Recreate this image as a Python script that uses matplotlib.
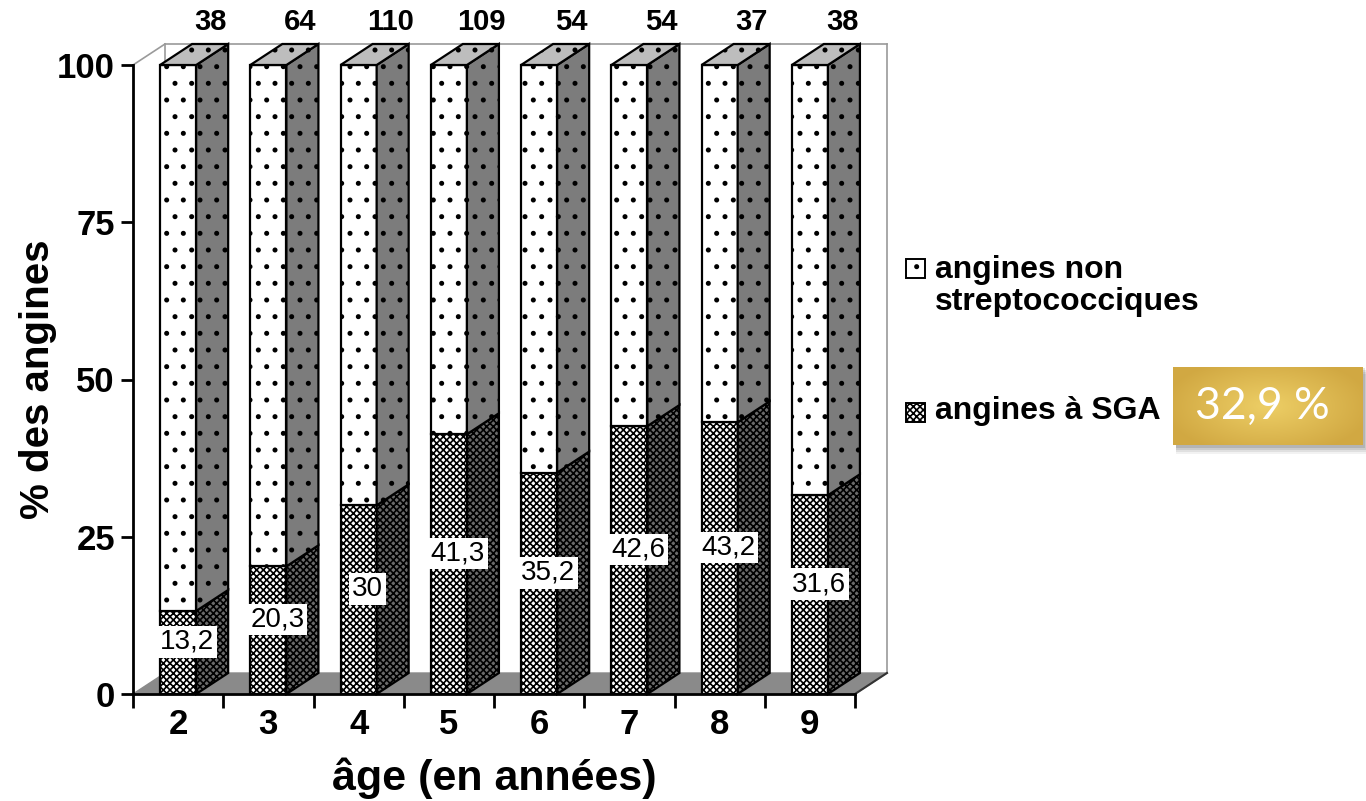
import numpy as np
import matplotlib
matplotlib.use("Agg")
import matplotlib.pyplot as plt
from matplotlib.patches import Polygon, Rectangle

plt.rcParams['font.family'] = ['Liberation Sans', 'DejaVu Sans']
plt.rcParams['hatch.linewidth'] = 1.2

# age groups, % of strep A (SGA) throats, number of throats per group
ages = ['2', '3', '4', '5', '6', '7', '8', '9']
sga = [13.2, 20.3, 30, 41.3, 35.2, 42.6, 43.2, 31.6]
counts = [38, 64, 110, 109, 54, 54, 37, 38]
overall = '32,9 %'
legend_labels = ['angines non\nstreptococciques', 'angines à SGA']

non_strep = [100 - v for v in sga]

W, H = 1366, 801
fig = plt.figure(figsize=(W / 100, H / 100), dpi=100)
fig.patch.set_facecolor('white')
ax = fig.add_axes([133 / W, (H - 694) / H, 722 / W, 629 / H])
ax.set_xlim(-0.5, len(ages) - 0.5)
ax.set_ylim(0, 100)

# fake 3D depth, in data units
dx = 32 / 90.25
dy = 21 / 6.29
bw = 0.4

x0, x1 = -0.5, len(ages) - 0.5
wall = dict(color='#9a9a9a', lw=1.2, clip_on=False, zorder=1)
ax.plot([x0, x0 + dx], [100, 100 + dy], **wall)
ax.plot([x0 + dx, x1 + dx], [100 + dy, 100 + dy], **wall)
ax.plot([x0 + dx, x0 + dx], [dy, 100 + dy], **wall)
ax.plot([x1 + dx, x1 + dx], [dy, 100 + dy], **wall)

floor = Polygon([(x0, 0), (x1, 0), (x1 + dx, dy), (x0 + dx, dy)],
                facecolor='#8a8a8a', edgecolor='#8a8a8a', lw=1, clip_on=False, zorder=2)
ax.add_patch(floor)
ax.plot([x1, x1 + dx], [0, dy], color='#333333', lw=1.5, clip_on=False, zorder=2)


def box(xl, yb, yt, front_fc, side_fc, hatch, z):
    xr = xl + bw
    ax.add_patch(Polygon([(xl, yb), (xr, yb), (xr, yt), (xl, yt)], facecolor=front_fc,
                         edgecolor='black', hatch=hatch, lw=1.6, clip_on=False, zorder=z))
    ax.add_patch(Polygon([(xr, yb), (xr + dx, yb + dy), (xr + dx, yt + dy), (xr, yt)],
                         facecolor=side_fc, edgecolor='black', hatch=hatch, lw=1.6,
                         clip_on=False, zorder=z))


for i, (s, n) in enumerate(zip(sga, non_strep)):
    xl = i - bw / 2
    z = 3 + i
    box(xl, 0, s, 'white', '#6a6a6a', 'xxxxx', z)
    box(xl, s, s + n, 'white', '#7c7c7c', '.', z)
    top = Polygon([(xl, 100), (xl + bw, 100), (xl + bw + dx, 100 + dy), (xl + dx, 100 + dy)],
                  facecolor='#bdbdbd', edgecolor='black', hatch='.', lw=1.6,
                  clip_on=False, zorder=z)
    ax.add_patch(top)
    lab = f"{s:g}".replace('.', ',')
    ax.text(i + 0.1, s / 2 + dy / 2, lab, ha='center', va='center', fontsize=20,
            zorder=20, bbox=dict(boxstyle='square,pad=0.1', fc='white', ec='none'))
    ax.text(i + bw / 2 + dx / 2 - 0.02, 100 + dy + 1.3, str(counts[i]), ha='center',
            va='bottom', fontsize=21, fontweight='bold', clip_on=False, zorder=20)

for side in ['top', 'right']:
    ax.spines[side].set_visible(False)
for side in ['left', 'bottom']:
    ax.spines[side].set_linewidth(2)
    ax.spines[side].set_zorder(30)

ax.set_yticks([0, 25, 50, 75, 100])
ax.tick_params(axis='y', length=9, width=2, labelsize=25, pad=4)
for t in ax.get_yticklabels():
    t.set_fontweight('bold')

ax.set_xticks(range(len(ages)))
ax.set_xticklabels(ages, fontsize=25, fontweight='bold')
ax.tick_params(axis='x', length=0, pad=10)
ax.set_xticks(np.arange(-0.5, len(ages), 1), minor=True)
ax.tick_params(axis='x', which='minor', length=10, width=2, direction='out')

ax.set_xlabel('âge (en années)', fontsize=31, fontweight='bold', labelpad=12)
ax.set_ylabel('% des angines', fontsize=29, fontweight='bold', labelpad=0)
ax.set_facecolor('none')

# legend drawn by hand
sq = 19
for j, (ytop, hatch) in enumerate([(259, '.'), (403, 'xxxxx')]):
    fig.add_artist(Rectangle((906 / W, (H - ytop - sq) / H), sq / W, sq / H,
                             facecolor='white', edgecolor='black', hatch=hatch,
                             lw=1.4, transform=fig.transFigure))
fig.text(935 / W, (H - 286) / H, legend_labels[0], fontsize=23, fontweight='bold',
         ha='left', va='center', linespacing=1.05)
fig.text(935 / W, (H - 411) / H, legend_labels[1], fontsize=23, fontweight='bold',
         ha='left', va='center')

# golden badge with soft shadow underneath
bx, by, bwid, bh = 1173, 367, 190, 78
for k, a in enumerate([0.05, 0.07, 0.09, 0.11]):
    off = 9 - 2 * k
    fig.add_artist(Rectangle(((bx + 3) / W, (H - by - bh - off) / H),
                             (bwid + off - 4) / W, (bh + 2) / H,
                             facecolor='black', edgecolor='none', alpha=a,
                             transform=fig.transFigure, zorder=0.5))
bax = fig.add_axes([bx / W, (H - by - bh) / H, bwid / W, bh / H], zorder=5)
gx, gy = np.meshgrid(np.linspace(-1, 1, 200), np.linspace(-1, 1, 80))
r = np.clip(np.sqrt((gx / 1.1) ** 2 + (gy / 1.3) ** 2), 0, 1)
c_in = np.array([0.93, 0.81, 0.40])
c_out = np.array([0.82, 0.66, 0.26])
img = c_in[None, None, :] * (1 - r[..., None]) + c_out[None, None, :] * r[..., None]
bax.imshow(img, aspect='auto', extent=[0, 1, 0, 1])
bax.set_xlim(0, 1)
bax.set_ylim(0, 1)
bax.axis('off')
bax.text(0.47, 0.5, overall, color='white', fontsize=32, ha='center', va='center',
         family=['Lato', 'DejaVu Sans'])

fig.savefig('out.png', dpi=100)
